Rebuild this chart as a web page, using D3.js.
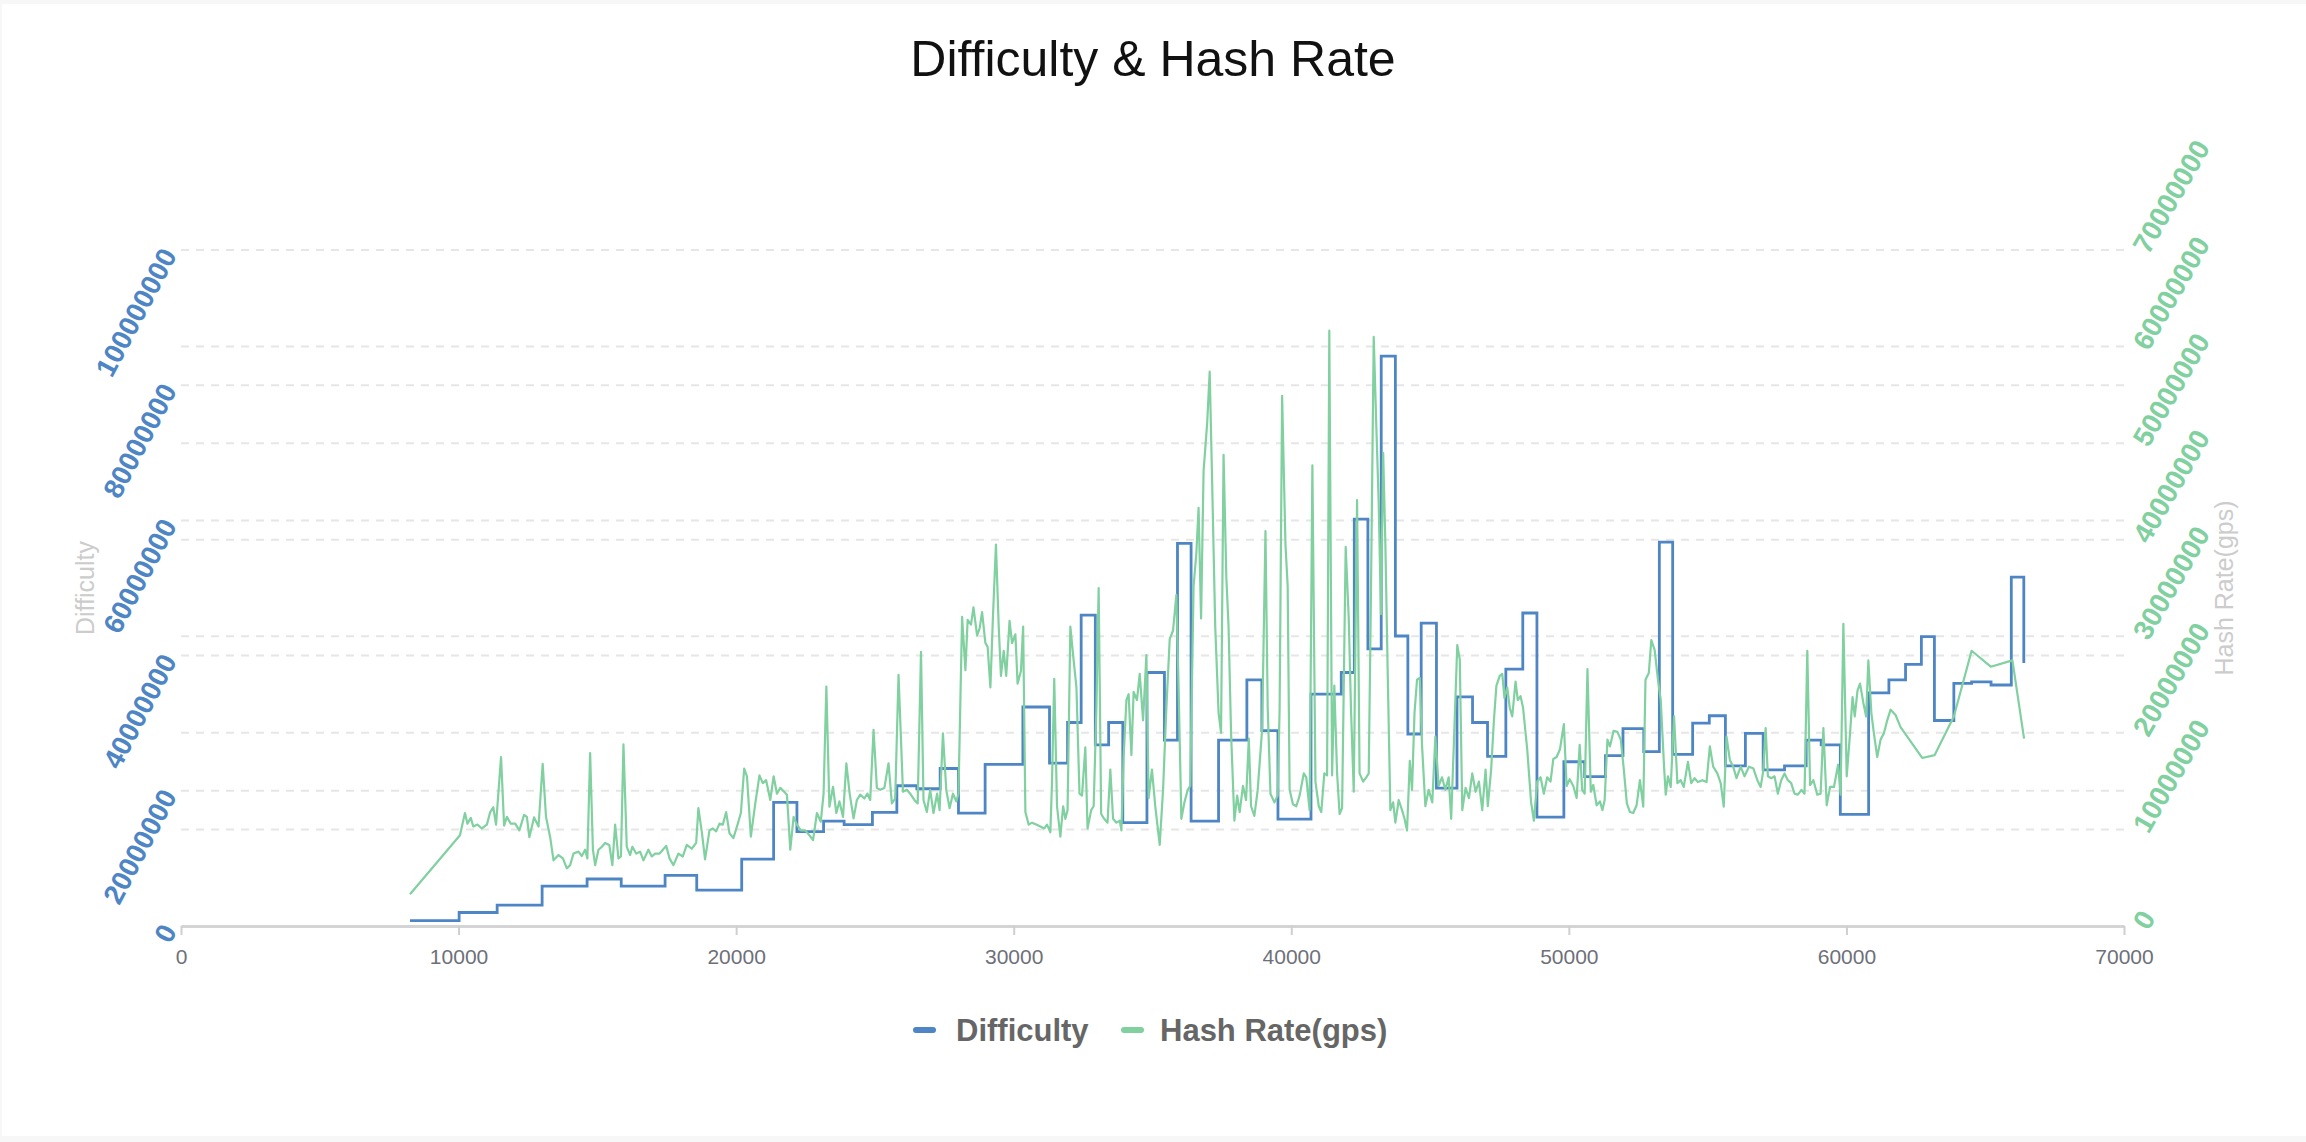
<!DOCTYPE html>
<html>
<head>
<meta charset="utf-8">
<title>Difficulty &amp; Hash Rate</title>
<script src="https://cdn.jsdelivr.net/npm/d3@7"></script>
<style>
  body { margin: 0; background: #f7f7f7; }
  svg { display: block; }
</style>
</head>
<body>
<svg id="chart"></svg>
<script>
// axis ticks
const blockTicks = [0, 10000, 20000, 30000, 40000, 50000, 60000, 70000];
const difficultyTicks = [0, 20000000, 40000000, 60000000, 80000000, 100000000];
const hashTicks = [0, 10000000, 20000000, 30000000, 40000000, 50000000, 60000000, 70000000];

// difficulty (millions), each value holds until the next height
const diffHeights = [
  8250, 10020, 11390, 13010, 14630, 15860, 17440, 18580, 20200, 21350,
  22190, 23150, 23890, 24910, 25790, 26510, 27350, 28010, 28970, 30330,
  31290, 31940, 32430, 32940, 33420, 33930, 34800, 35430, 35900, 36390,
  37380, 38400, 38940, 39520, 40710, 41800, 42270, 42760, 43240, 43750,
  44200, 44680, 45230, 45970, 46530, 47070, 47730, 48340, 48850, 49820,
  50570, 51320, 51950, 52700, 53260, 53740, 54460, 55060, 55640, 56360,
  57000, 57770, 58550, 59090, 59780, 60800, 61530, 62130, 62700, 63170,
  63870, 64510, 65210, 65940, 66390
];
const diffValues = [
  0.8, 2.0, 3.1, 5.9, 6.95, 5.9, 7.5, 5.3, 9.9, 18.3,
  13.95, 15.5, 15.0, 16.8, 20.75, 20.3, 23.3, 16.7, 23.9, 32.4,
  24.1, 30.1, 46.0, 26.8, 30.1, 15.3, 37.5, 27.5, 56.6, 15.5,
  27.5, 36.4, 28.9, 15.8, 34.3, 37.5, 60.2, 41.0, 84.3, 42.9,
  28.4, 44.8, 20.4, 33.9, 30.1, 25.1, 38.0, 46.3, 16.1, 24.3,
  22.1, 25.2, 29.2, 25.8, 56.8, 25.4, 30.0, 31.1, 23.7, 28.5,
  23.1, 23.7, 27.5, 26.8, 16.5, 34.5, 36.4, 38.7, 42.8, 30.4,
  35.9, 36.1, 35.65, 51.6, 38.9
];

// hash rate (millions of gps)
const hashHeights = [
  8250, 10050, 10230, 10320, 10440, 10530, 10680, 10840, 11020, 11140,
  11250, 11350, 11530, 11640, 11740, 11880, 12040, 12190, 12360, 12460,
  12550, 12720, 12880, 13030, 13150, 13300, 13420, 13600, 13760, 13900,
  14020, 14140, 14320, 14440, 14560, 14640, 14740, 14840, 14920, 15040,
  15160, 15280, 15430, 15540, 15640, 15760, 15850, 15940, 16060, 16180,
  16260, 16400, 16540, 16660, 16840, 16960, 17080, 17240, 17360, 17480,
  17600, 17740, 17920, 18080, 18220, 18400, 18560, 18640, 18770, 18880,
  19040, 19160, 19280, 19400, 19520, 19640, 19760, 19900, 20050, 20170,
  20290, 20390, 20530, 20690, 20840, 20960, 21080, 21230, 21350, 21470,
  21590, 21730, 21830, 21950, 22070, 22190, 22330, 22490, 22640, 22770,
  22910, 23050, 23150, 23250, 23360, 23490, 23610, 23720, 23850, 23970,
  24090, 24230, 24350, 24470, 24620, 24730, 24830, 24950, 25070, 25190,
  25340, 25490, 25610, 25730, 25850, 26010, 26150, 26270, 26420, 26540,
  26660, 26750, 26870, 26990, 27110, 27240, 27330, 27450, 27570, 27690,
  27810, 27930, 28010, 28140, 28260, 28340, 28460, 28550, 28680, 28770,
  28860, 28980, 29060, 29160, 29250, 29360, 29460, 29540, 29640, 29730,
  29850, 29940, 30060, 30140, 30260, 30340, 30420, 30540, 30660, 30810,
  30960, 31100, 31200, 31320, 31380, 31460, 31560, 31680, 31780, 31860,
  31940, 32040, 32140, 32260, 32370, 32460, 32580, 32660, 32790, 32880,
  32980, 33060, 33150, 33260, 33380, 33480, 33580, 33700, 33820, 33880,
  33960, 34060, 34140, 34240, 34320, 34440, 34540, 34660, 34780, 34860,
  34980, 35100, 35260, 35380, 35500, 35620, 35740, 35860, 35940, 36040,
  36150, 36270, 36360, 36480, 36580, 36660, 36750, 36840, 36970, 37060,
  37150, 37260, 37380, 37470, 37560, 37660, 37740, 37830, 37950, 38050,
  38140, 38260, 38370, 38470, 38550, 38670, 38790, 38950, 39070, 39150,
  39250, 39390, 39510, 39580, 39670, 39790, 39870, 39940, 40060, 40180,
  40300, 40450, 40540, 40660, 40760, 40870, 40990, 41080, 41190, 41290,
  41370, 41470, 41550, 41650, 41740, 41830, 41960, 42070, 42150, 42250,
  42370, 42460, 42590, 42700, 42790, 42870, 42970, 43060, 43150, 43230,
  43310, 43390, 43470, 43570, 43670, 43750, 43870, 43990, 44080, 44170,
  44270, 44350, 44440, 44530, 44630, 44710, 44830, 44950, 45080, 45190,
  45310, 45430, 45550, 45670, 45760, 45850, 45980, 46070, 46160, 46280,
  46400, 46520, 46640, 46760, 46880, 47000, 47080, 47200, 47300, 47390,
  47510, 47600, 47680, 47780, 47870, 47960, 48080, 48160, 48260, 48350,
  48500, 48640, 48740, 48860, 48980, 49100, 49220, 49340, 49440, 49560,
  49680, 49820, 49920, 50030, 50160, 50280, 50390, 50480, 50570, 50670,
  50790, 50880, 51000, 51120, 51210, 51290, 51390, 51480, 51610, 51750,
  51870, 51970, 52090, 52200, 52320, 52440, 52560, 52680, 52760, 52880,
  52970, 53090, 53210, 53310, 53430, 53490, 53570, 53670, 53790, 53910,
  54030, 54140, 54290, 54410, 54530, 54650, 54810, 54960, 55080, 55200,
  55350, 55470, 55580, 55680, 55800, 55920, 56040, 56190, 56330, 56490,
  56650, 56790, 56910, 57000, 57090, 57170, 57290, 57410, 57530, 57650,
  57770, 57890, 58010, 58130, 58250, 58380, 58490, 58590, 58690, 58810,
  58950, 59070, 59170, 59290, 59410, 59550, 59700, 59790, 59890, 60010,
  60130, 60220, 60300, 60400, 60490, 60610, 60710, 60790, 60900, 60990,
  61110, 61230, 61350, 61470, 61590, 61770, 61950, 62730, 63180, 63870,
  64510, 65200, 65980, 66400
];
const hashValues = [
  3.28, 9.4, 11.7, 10.6, 11.2, 10.3, 10.5, 10.1, 10.5, 11.8,
  12.3, 10.5, 17.5, 10.4, 11.3, 10.6, 10.6, 9.9, 11.5, 11.3,
  9.2, 11.25, 10.3, 16.8, 11.3, 9.2, 6.8, 7.35, 7.0, 5.97,
  6.3, 7.5, 7.7, 7.25, 7.9, 7.0, 17.9, 7.9, 6.3, 7.9,
  8.2, 8.6, 8.4, 6.3, 10.5, 7.0, 7.2, 18.8, 8.2, 7.35,
  8.2, 7.5, 7.7, 6.8, 7.9, 7.2, 7.5, 7.5, 7.9, 8.3,
  7.0, 6.3, 7.5, 7.2, 8.4, 8.0, 8.6, 12.2, 9.6, 6.9,
  9.9, 10.1, 9.8, 10.6, 10.5, 11.8, 9.6, 9.1, 10.5, 11.7,
  16.3, 15.5, 9.25, 12.7, 15.6, 14.8, 15.1, 13.05, 15.5, 13.7,
  14.3, 13.9, 13.6, 7.9, 11.3, 10.5, 9.9, 9.9, 9.4, 8.9,
  11.7, 10.8, 13.7, 24.8, 12.35, 14.4, 11.7, 12.9, 11.3, 16.85,
  13.7, 11.15, 13.05, 13.6, 13.2, 13.7, 13.05, 20.3, 14.3, 14.1,
  14.3, 16.85, 12.7, 13.2, 26.0, 13.9, 14.1, 13.7, 13.05, 12.7,
  28.4, 13.05, 11.8, 14.1, 11.7, 13.7, 12.0, 19.95, 14.1, 12.2,
  13.7, 12.9, 13.7, 32.0, 26.5, 31.7, 31.2, 33.0, 30.1, 30.8,
  32.5, 29.3, 28.9, 24.7, 31.9, 39.5, 31.0, 25.9, 28.5, 25.9,
  31.6, 29.3, 30.2, 25.1, 26.4, 31.0, 11.8, 10.5, 10.7, 10.5,
  10.3, 10.1, 10.5, 9.7, 14.95, 25.6, 12.4, 9.25, 12.4, 11.1,
  12.0, 31.0, 28.05, 24.7, 13.7, 13.5, 18.5, 10.1, 12.0, 12.4,
  22.6, 35.0, 11.6, 11.1, 10.7, 16.2, 11.1, 10.7, 10.9, 9.9,
  17.5, 23.4, 24.0, 17.7, 24.25, 23.4, 26.1, 21.3, 28.05, 13.25,
  16.2, 12.4, 8.4, 14.1, 22.6, 29.7, 30.6, 34.3, 24.7, 11.1,
  12.8, 14.1, 14.5, 35.2, 38.6, 43.3, 31.85, 47.1, 52.1, 57.4,
  45.8, 31.0, 22.1, 20.0, 48.8, 36.1, 31.0, 20.0, 10.9, 13.5,
  11.8, 14.5, 13.05, 19.4, 12.4, 11.4, 14.1, 20.4, 40.9, 22.6,
  13.7, 12.8, 13.5, 22.6, 54.9, 39.5, 35.2, 14.1, 12.6, 12.4,
  13.5, 15.8, 15.4, 12.0, 47.7, 14.95, 12.4, 11.8, 15.8, 15.6,
  61.65, 15.6, 24.9, 15.8, 11.6, 12.2, 39.25, 31.85, 22.6, 13.9,
  44.1, 15.8, 14.95, 15.4, 15.8, 34.4, 61.0, 52.1, 43.7, 32.3,
  49.0, 39.5, 26.8, 12.0, 12.8, 10.7, 13.05, 12.0, 11.1, 9.9,
  17.1, 14.1, 22.1, 25.5, 25.7, 18.75, 12.4, 14.1, 12.8, 19.6,
  14.5, 15.4, 14.1, 15.4, 11.1, 18.3, 29.1, 27.6, 12.0, 14.3,
  13.25, 15.8, 13.9, 14.95, 12.0, 16.2, 12.4, 16.2, 21.3, 24.9,
  25.9, 26.1, 23.6, 24.7, 22.6, 21.7, 25.3, 23.4, 23.8, 22.6,
  18.3, 12.8, 10.9, 14.95, 15.4, 13.7, 15.4, 14.95, 17.3, 17.5,
  18.3, 20.9, 14.5, 15.2, 14.5, 13.25, 18.75, 14.1, 13.7, 26.6,
  13.9, 14.6, 12.5, 12.9, 12.0, 13.05, 19.3, 18.6, 20.2, 20.1,
  19.3, 16.5, 12.7, 11.8, 11.7, 12.5, 15.1, 12.35, 25.5, 26.2,
  29.6, 28.6, 25.5, 23.4, 16.5, 13.6, 15.5, 14.4, 21.7, 14.8,
  15.1, 14.4, 17.0, 14.8, 15.3, 14.9, 15.1, 14.9, 18.6, 16.5,
  15.8, 14.8, 12.35, 19.6, 17.2, 16.5, 15.3, 16.5, 15.5, 16.5,
  16.3, 15.1, 14.4, 16.0, 20.5, 15.5, 15.3, 15.5, 13.7, 15.1,
  15.8, 15.1, 14.8, 13.7, 13.6, 14.1, 13.7, 28.5, 14.6, 15.1,
  13.6, 13.7, 20.5, 12.5, 14.4, 14.4, 16.7, 13.6, 31.3, 15.5,
  19.95, 23.7, 21.7, 24.4, 25.1, 23.1, 21.7, 27.5, 22.0, 19.95,
  17.5, 19.3, 19.95, 21.3, 22.4, 21.85, 20.6, 17.4, 17.7, 21.7,
  28.5, 26.85, 27.5, 19.4
];

const seriesNames = ["Difficulty", "Hash Rate(gps)"];

const blue = "#4d85c5";
const green = "#80d0a0";
const font = "'Liberation Sans', Arial, Helvetica, sans-serif";

const width = 2306;
const height = 1142;
const margin = { top: 250, right: 182, bottom: 216, left: 181 };

const svg = d3.select("#chart")
  .attr("width", width)
  .attr("height", height)
  .style("font-family", font);

// white card on the grey page
svg.append("rect")
  .attr("x", 2)
  .attr("y", 4)
  .attr("width", width - 2)
  .attr("height", height - 10)
  .attr("fill", "#fff");

const x = d3.scaleLinear()
  .domain([0, 70000])
  .range([margin.left, width - margin.right]);

const yLeft = d3.scaleLinear()
  .domain([0, 100000000])
  .range([height - margin.bottom, margin.top]);

const yRight = d3.scaleLinear()
  .domain([0, 70000000])
  .range([height - margin.bottom, margin.top]);

// dashed split lines for both value axes
const grid = svg.append("g");
grid.selectAll("line.left")
  .data(difficultyTicks.filter(d => d > 0))
  .join("line")
  .attr("class", "left")
  .attr("x1", x(0)).attr("x2", x(70000))
  .attr("y1", d => yLeft(d)).attr("y2", d => yLeft(d));
grid.selectAll("line.right")
  .data(hashTicks.filter(d => d > 0))
  .join("line")
  .attr("class", "right")
  .attr("x1", x(0)).attr("x2", x(70000))
  .attr("y1", d => yRight(d)).attr("y2", d => yRight(d));
grid.selectAll("line")
  .attr("stroke", "#e6e6e6")
  .attr("stroke-width", 2)
  .attr("stroke-dasharray", "8,7");

// x axis
const xAxis = svg.append("g")
  .attr("transform", `translate(0,${height - margin.bottom})`)
  .call(d3.axisBottom(x)
    .tickValues(blockTicks)
    .tickSize(9)
    .tickSizeOuter(0)
    .tickPadding(14)
    .tickFormat(d3.format("d")));
xAxis.select(".domain").attr("stroke", "#d4d4d4").attr("stroke-width", 3);
xAxis.selectAll(".tick line").attr("stroke", "#cfcfcf").attr("stroke-width", 2);
xAxis.selectAll("text")
  .attr("fill", "#6e7079")
  .style("font-size", "21px")
  .style("font-family", font);

// left value axis (difficulty), rotated labels
const leftAxis = svg.append("g")
  .attr("transform", `translate(${margin.left},0)`)
  .call(d3.axisLeft(yLeft)
    .tickValues(difficultyTicks)
    .tickSize(0)
    .tickPadding(12)
    .tickFormat(d3.format("d")));
leftAxis.select(".domain").remove();
leftAxis.selectAll("text")
  .attr("fill", blue)
  .attr("dy", "0.35em")
  .attr("transform", "rotate(-62 -12 0)")
  .style("font-size", "28px")
  .style("font-weight", "bold")
  .style("font-family", font);

// right value axis (hash rate)
const rightAxis = svg.append("g")
  .attr("transform", `translate(${width - margin.right},0)`)
  .call(d3.axisRight(yRight)
    .tickValues(hashTicks)
    .tickSize(0)
    .tickPadding(16)
    .tickFormat(d3.format("d")));
rightAxis.select(".domain").remove();
rightAxis.selectAll("text")
  .attr("fill", green)
  .attr("dy", "0.35em")
  .attr("transform", "rotate(-60 16 0)")
  .style("font-size", "28px")
  .style("font-weight", "bold")
  .style("font-family", font);

// axis names
const midY = (margin.top + height - margin.bottom) / 2;
svg.append("text")
  .attr("transform", `translate(85,${midY}) rotate(-90)`)
  .attr("text-anchor", "middle")
  .attr("dy", "0.35em")
  .attr("fill", "#cccccc")
  .style("font-size", "25px")
  .text("Difficulty");
svg.append("text")
  .attr("transform", `translate(2224,${midY}) rotate(-90)`)
  .attr("text-anchor", "middle")
  .attr("dy", "0.35em")
  .attr("fill", "#cccccc")
  .style("font-size", "25px")
  .text("Hash Rate(gps)");

// series
const diffData = d3.zip(diffHeights, diffValues);
const hashData = d3.zip(hashHeights, hashValues);

const diffLine = d3.line()
  .x(d => x(d[0]))
  .y(d => yLeft(d[1] * 1e6))
  .curve(d3.curveStepAfter);

const hashLine = d3.line()
  .x(d => x(d[0]))
  .y(d => yRight(d[1] * 1e6));

svg.append("path")
  .datum(diffData)
  .attr("d", diffLine)
  .attr("fill", "none")
  .attr("stroke", blue)
  .attr("stroke-width", 2.8);

svg.append("path")
  .datum(hashData)
  .attr("d", hashLine)
  .attr("fill", "none")
  .attr("stroke", green)
  .attr("stroke-width", 2.2)
  .attr("stroke-linejoin", "round");

// title
svg.append("text")
  .attr("x", width / 2)
  .attr("y", 76)
  .attr("text-anchor", "middle")
  .attr("fill", "#111")
  .style("font-size", "50px")
  .text("Difficulty & Hash Rate");

// legend
const legendY = 1030;
const legendItems = [
  { name: seriesNames[0], color: blue, icon: 913, label: 956 },
  { name: seriesNames[1], color: green, icon: 1121, label: 1160 }
];
const legend = svg.append("g");
legend.selectAll("rect")
  .data(legendItems)
  .join("rect")
  .attr("x", d => d.icon)
  .attr("y", legendY - 3)
  .attr("width", 23)
  .attr("height", 6)
  .attr("rx", 3)
  .attr("fill", d => d.color);
legend.selectAll("text")
  .data(legendItems)
  .join("text")
  .attr("x", d => d.label)
  .attr("y", legendY)
  .attr("dy", "0.35em")
  .attr("fill", "#666")
  .style("font-size", "31px")
  .style("font-weight", "bold")
  .text(d => d.name);
</script>
</body>
</html>
